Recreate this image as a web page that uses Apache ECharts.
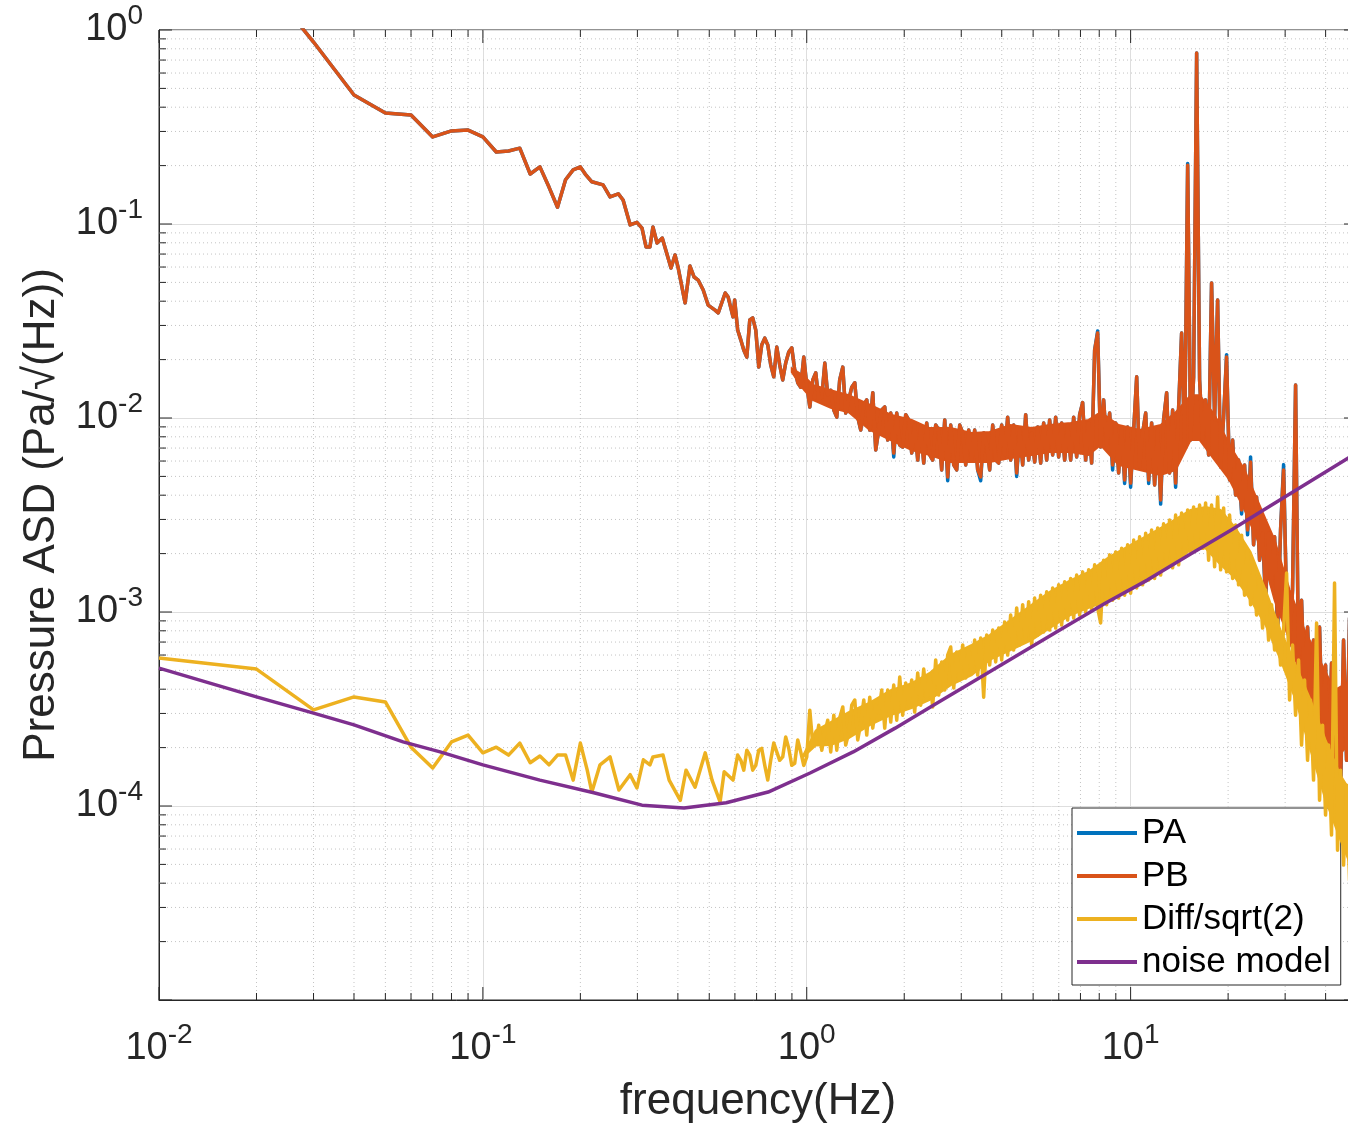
<!DOCTYPE html>
<html>
<head>
<meta charset="utf-8">
<script src="https://cdn.jsdelivr.net/npm/echarts@6.0.0/dist/echarts.min.js"></script>
<style>
  html, body { margin: 0; padding: 0; background: #fff; }
  #asd_chart { width: 1348px; height: 1126px; }
</style>
</head>
<body>
<div id="asd_chart"></div>
<script>
// low-frequency part of PA / PB (Hz and Pa/sqrt(Hz)); PA lies on PB here
const pLowFreq = [
  0.02, 0.03, 0.04, 0.05, 0.06, 0.07, 0.08, 0.09, 0.10, 0.11, 0.12, 0.13, 0.14, 0.15, 0.16, 0.17, 0.18, 0.19, 0.20,
  0.207, 0.217, 0.235, 0.247, 0.262, 0.271, 0.285, 0.299, 0.310, 0.319, 0.328, 0.335, 0.345, 0.358,
  0.381, 0.392, 0.401, 0.421, 0.436, 0.449, 0.462, 0.479, 0.496, 0.521, 0.533, 0.560, 0.572, 0.592
]
const pbLowAsd = [
  2.0, 0.867, 0.462, 0.373, 0.365, 0.281, 0.302, 0.305, 0.281, 0.235, 0.238, 0.246, 0.181, 0.197, 0.155, 0.122, 0.169, 0.190, 0.197,
  0.181, 0.165, 0.159, 0.138, 0.143, 0.133, 0.0989, 0.102, 0.0953, 0.0761, 0.0761, 0.0965, 0.0798, 0.0847,
  0.0593, 0.0692, 0.0593, 0.0392, 0.0607, 0.0533, 0.0514, 0.0457, 0.0382, 0.0360, 0.0348, 0.0441, 0.0420, 0.0332
]

// low-frequency part of Diff/sqrt(2)
const dLowFreq = [
  0.01, 0.02, 0.03, 0.04, 0.05, 0.06, 0.07, 0.08, 0.09, 0.10, 0.11, 0.12, 0.13, 0.14, 0.15, 0.16, 0.17, 0.18, 0.19, 0.20,
  0.210, 0.217, 0.230, 0.247, 0.263, 0.285, 0.299, 0.313, 0.328, 0.335,
  0.360, 0.376, 0.407, 0.424, 0.452, 0.486, 0.510, 0.540, 0.556, 0.592
]
const diffLowAsd = [
  5.79e-4, 5.08e-4, 3.13e-4, 3.65e-4, 3.44e-4, 2.01e-4, 1.57e-4, 2.14e-4, 2.32e-4, 1.88e-4,
  2.01e-4, 1.83e-4, 2.11e-4, 1.67e-4, 1.81e-4, 1.63e-4, 1.83e-4, 1.83e-4, 1.36e-4, 2.11e-4,
  1.53e-4, 1.18e-4, 1.63e-4, 1.79e-4, 1.21e-4, 1.45e-4, 1.24e-4, 1.73e-4, 1.63e-4, 1.79e-4,
  1.83e-4, 1.36e-4, 1.07e-4, 1.53e-4, 1.25e-4, 1.88e-4, 1.36e-4, 1.05e-4, 1.50e-4, 1.36e-4
]

// dense part, shared frequencies (Hz)
const denseFreq = [
  0.599, 0.612, 0.626, 0.639, 0.653, 0.667, 0.681, 0.696, 0.711, 0.726,
  0.742, 0.758, 0.774, 0.791, 0.808, 0.825, 0.843, 0.861, 0.880, 0.899,
  0.918, 0.938, 0.958, 0.979, 1.000, 1.022, 1.044, 1.066, 1.089, 1.113,
  1.137, 1.161, 1.186, 1.212, 1.238, 1.264, 1.292, 1.319, 1.348, 1.377,
  1.407, 1.437, 1.468, 1.500, 1.532, 1.565, 1.599, 1.633, 1.668, 1.704,
  1.741, 1.778, 1.817, 1.856, 1.896, 1.937, 1.978, 2.021, 2.065, 2.109,
  2.154, 2.201, 2.248, 2.297, 2.346, 2.397, 2.448, 2.501, 2.555, 2.610,
  2.667, 2.724, 2.783, 2.843, 2.904, 2.967, 3.031, 3.096, 3.162, 3.231,
  3.300, 3.371, 3.444, 3.518, 3.594, 3.671, 3.751, 3.831, 3.914, 3.998,
  4.084, 4.172, 4.262, 4.354, 4.448, 4.544, 4.642, 4.742, 4.844, 4.948,
  5.055, 5.164, 5.275, 5.389, 5.505, 5.623, 5.745, 5.869, 5.995, 6.124,
  6.256, 6.391, 6.529, 6.670, 6.813, 6.960, 7.110, 7.263, 7.420, 7.580,
  7.743, 7.910, 8.080, 8.254, 8.432, 8.614, 8.799, 8.989, 9.183, 9.380,
  9.583, 9.789, 10.00, 10.22, 10.44, 10.66, 10.89, 11.13, 11.37, 11.61,
  11.86, 12.12, 12.38, 12.64, 12.92, 13.19, 13.48, 13.77, 14.07, 14.37,
  14.68, 15.00, 15.32, 15.65, 15.99, 16.33, 16.68, 17.04, 17.41, 17.78,
  18.17, 18.56, 18.96, 19.37, 19.78, 20.21, 20.65, 21.09, 21.54, 22.01,
  22.48, 22.97, 23.46, 23.97, 24.48, 25.01, 25.55, 26.10, 26.67, 27.24,
  27.83, 28.43, 29.04, 29.67, 30.31, 30.96, 31.62, 32.31, 33.00, 33.71,
  34.44, 35.18, 35.94, 36.71, 37.51, 38.31, 39.14, 39.98, 40.84, 41.72,
  42.62, 43.54, 44.48, 45.44, 46.42, 47.42, 48.44
]

const pbDenseAsd = [
  0.0406, 0.0284, 0.0252, 0.0224, 0.0206, 0.0320, 0.0328, 0.0284, 0.0183, 0.0238,
  0.0258, 0.0238, 0.0188, 0.0163, 0.0232, 0.0188, 0.0157, 0.0192, 0.0219, 0.0230,
  0.0177, 0.0152, 0.0144, 0.0206, 0.0148, 0.0114, 0.0157, 0.0171, 0.0124, 0.0128,
  0.0192, 0.0131, 0.0139, 0.0110, 0.0101, 0.0157, 0.0183, 0.0106, 0.0124, 0.0144,
  0.0152, 0.0101, 0.00867, 0.0117, 0.0124, 0.00867, 0.0135, 0.00684, 0.00867, 0.0110,
  0.0114, 0.00770, 0.0106, 0.00660, 0.0106, 0.00726, 0.00709, 0.0104, 0.00977, 0.00660,
  0.00920, 0.00607, 0.00899, 0.00586, 0.00943, 0.00645, 0.00607, 0.00920, 0.00867, 0.00540,
  0.00977, 0.00497, 0.00920, 0.00573, 0.00540, 0.00920, 0.00837, 0.00573, 0.00867, 0.00607,
  0.00867, 0.00540, 0.00497, 0.00837, 0.00726, 0.00540, 0.00920, 0.00607, 0.00586, 0.00920,
  0.00645, 0.0101, 0.00607, 0.00920, 0.00521, 0.00867, 0.00573, 0.0104, 0.00607, 0.00837,
  0.00593, 0.00899, 0.00586, 0.00943, 0.00607, 0.00977, 0.00645, 0.0101, 0.00630, 0.00943,
  0.00607, 0.00920, 0.00607, 0.0101, 0.00630, 0.0104, 0.0120, 0.00607, 0.00943, 0.00586,
  0.0224, 0.0274, 0.00709, 0.0124, 0.00726, 0.0106, 0.00573, 0.00943, 0.00521, 0.00899,
  0.00479, 0.00899, 0.00462, 0.00867, 0.0163, 0.00559, 0.00837, 0.0106, 0.00479, 0.00943,
  0.00452, 0.00867, 0.00378, 0.00977, 0.0135, 0.00521, 0.0110, 0.00462, 0.0114, 0.0274,
  0.00726, 0.201, 0.00770, 0.0163, 0.761, 0.0157, 0.00770, 0.0124, 0.00645, 0.0497,
  0.00977, 0.0406, 0.00559, 0.0101, 0.0206, 0.00479, 0.00770, 0.00401, 0.00607, 0.00336,
  0.00573, 0.00265, 0.00593, 0.00222, 0.00392, 0.00185, 0.00255, 0.00120, 0.00255, 0.00138,
  0.00244, 0.000837, 0.00265, 0.00540, 0.00109, 0.000676, 0.00130, 0.0148, 0.000502, 0.00115,
  0.000396, 0.000837, 0.000352, 0.000717, 0.000246, 0.000837, 0.000219, 0.000533, 0.000136, 0.000546,
  0.000172, 0.000352, 0.000121, 0.000717, 0.000172, 0.000930, 0.000277
]

const paDenseAsd = [
  0.0406, 0.0284, 0.0252, 0.0224, 0.0206, 0.0320, 0.0328, 0.0284, 0.0183, 0.0238,
  0.0258, 0.0238, 0.0188, 0.0163, 0.0232, 0.0188, 0.0157, 0.0192, 0.0219, 0.0230,
  0.0177, 0.0152, 0.0144, 0.0206, 0.0148, 0.0114, 0.0157, 0.0171, 0.0124, 0.0128,
  0.0192, 0.0131, 0.0139, 0.0110, 0.0101, 0.0157, 0.0183, 0.0106, 0.0124, 0.0144,
  0.0152, 0.0101, 0.00867, 0.0117, 0.0124, 0.00867, 0.0135, 0.00684, 0.00867, 0.0110,
  0.0114, 0.00770, 0.0106, 0.00630, 0.0106, 0.00726, 0.00709, 0.0104, 0.00977, 0.00660,
  0.00920, 0.00607, 0.00899, 0.00586, 0.00943, 0.00645, 0.00607, 0.00920, 0.00867, 0.00540,
  0.00977, 0.00475, 0.00920, 0.00573, 0.00540, 0.00920, 0.00837, 0.00573, 0.00867, 0.00607,
  0.00867, 0.00540, 0.00475, 0.00837, 0.00726, 0.00540, 0.00920, 0.00607, 0.00586, 0.00920,
  0.00645, 0.0101, 0.00607, 0.00920, 0.00500, 0.00867, 0.00573, 0.0104, 0.00607, 0.00837,
  0.00593, 0.00899, 0.00586, 0.00943, 0.00607, 0.00977, 0.00645, 0.0101, 0.00630, 0.00943,
  0.00607, 0.00920, 0.00607, 0.0101, 0.00630, 0.0104, 0.0120, 0.00607, 0.00943, 0.00586,
  0.0224, 0.0281, 0.00709, 0.0124, 0.00726, 0.0106, 0.00540, 0.00943, 0.00521, 0.00899,
  0.00460, 0.00899, 0.00440, 0.00867, 0.0163, 0.00559, 0.00837, 0.0106, 0.00460, 0.00943,
  0.00452, 0.00867, 0.00360, 0.00977, 0.0135, 0.00521, 0.0110, 0.00440, 0.0114, 0.0274,
  0.00726, 0.205, 0.00770, 0.0163, 0.761, 0.0157, 0.00770, 0.0124, 0.00645, 0.0497,
  0.00977, 0.0406, 0.00559, 0.0101, 0.0212, 0.00479, 0.00770, 0.00401, 0.00607, 0.00320,
  0.00573, 0.00250, 0.00630, 0.00222, 0.00392, 0.00185, 0.00255, 0.00112, 0.00255, 0.00138,
  0.00244, 0.00078, 0.00265, 0.00575, 0.00109, 0.000676, 0.00130, 0.0148, 0.00047, 0.00115,
  0.000396, 0.000837, 0.000352, 0.000717, 0.000246, 0.000837, 0.000219, 0.000533, 0.000125, 0.000546,
  0.000172, 0.000352, 0.000113, 0.000717, 0.000172, 0.000930, 0.000277
]

const diffDenseAsd = [
  1.36e-4, 1.83e-4, 1.72e-4, 1.53e-4, 1.94e-4, 1.83e-4, 1.53e-4, 1.62e-4, 1.94e-4, 1.98e-4,
  1.62e-4, 1.36e-4, 1.72e-4, 2.11e-4, 1.90e-4, 1.72e-4, 1.79e-4, 2.27e-4, 1.98e-4, 1.62e-4,
  1.66e-4, 2.19e-4, 1.90e-4, 1.62e-4, 1.79e-4, 3.12e-4, 2.06e-4, 2.11e-4, 2.61e-4, 1.94e-4,
  2.38e-4, 2.77e-4, 1.90e-4, 2.94e-4, 1.94e-4, 2.84e-4, 3.24e-4, 2.06e-4, 2.38e-4, 3.31e-4,
  3.52e-4, 2.19e-4, 2.68e-4, 3.52e-4, 2.32e-4, 3.64e-4, 2.52e-4, 3.31e-4, 3.01e-4, 3.96e-4,
  2.52e-4, 3.96e-4, 2.71e-4, 4.20e-4, 2.77e-4, 4.62e-4, 2.94e-4, 4.30e-4, 3.31e-4, 4.46e-4,
  3.05e-4, 4.85e-4, 3.31e-4, 5.08e-4, 3.52e-4, 4.73e-4, 3.24e-4, 5.66e-4, 3.73e-4, 5.53e-4,
  3.96e-4, 6.00e-4, 6.60e-4, 4.06e-4, 6.22e-4, 4.46e-4, 6.76e-4, 4.57e-4, 6.52e-4, 4.85e-4,
  7.17e-4, 4.73e-4, 7.34e-4, 3.64e-4, 7.61e-4, 5.33e-4, 8.07e-4, 5.53e-4, 8.26e-4, 5.66e-4,
  8.88e-4, 6.00e-4, 9.65e-4, 6.37e-4, 1.05e-3, 6.76e-4, 1.09e-3, 7.17e-4, 1.13e-3, 6.76e-4,
  1.18e-3, 7.61e-4, 1.22e-3, 7.89e-4, 1.27e-3, 8.07e-4, 1.33e-3, 8.26e-4, 1.38e-3, 8.57e-4,
  1.43e-3, 9.09e-4, 1.49e-3, 9.31e-4, 1.55e-3, 9.65e-4, 1.61e-3, 1.00e-3, 1.65e-3, 1.02e-3,
  1.75e-3, 1.05e-3, 8.78e-4, 1.85e-3, 1.09e-3, 1.97e-3, 1.15e-3, 2.04e-3, 1.18e-3, 2.13e-3,
  1.22e-3, 2.22e-3, 1.25e-3, 2.35e-3, 1.33e-3, 2.44e-3, 1.38e-3, 2.55e-3, 1.46e-3, 2.65e-3,
  1.49e-3, 2.71e-3, 1.55e-3, 2.85e-3, 1.75e-3, 2.98e-3, 1.69e-3, 3.16e-3, 1.75e-3, 3.24e-3,
  1.91e-3, 3.36e-3, 2.04e-3, 3.48e-3, 2.09e-3, 3.56e-3, 2.13e-3, 3.65e-3, 1.85e-3, 3.56e-3,
  1.71e-3, 3.92e-3, 1.65e-3, 3.44e-3, 1.61e-3, 3.16e-3, 1.49e-3, 2.81e-3, 1.38e-3, 2.49e-3,
  1.22e-3, 2.09e-3, 1.09e-3, 1.75e-3, 9.65e-4, 1.46e-3, 8.26e-4, 1.30e-3, 7.17e-4, 1.09e-3,
  6.37e-4, 9.09e-4, 5.33e-4, 8.07e-4, 1.59e-3, 3.52e-4, 6.76e-4, 2.94e-4, 5.66e-4, 2.06e-4,
  4.46e-4, 1.72e-4, 3.52e-4, 1.36e-4, 8.78e-4, 1.07e-4, 2.61e-4, 8.98e-5, 2.06e-4, 7.08e-5,
  1.41e-3, 5.92e-5, 1.53e-4, 4.96e-5, 1.28e-4, 4.15e-5, 1.14e-4
]

// core of the dense noise bands: frequency, upper and lower ASD
const pbBandFreq = [0.899, 0.979, 1.044, 1.186, 1.348, 1.565, 1.817, 2.109, 2.397, 2.783, 3.231, 3.671, 4.262, 4.948, 5.623, 6.529,
  7.420, 8.080, 9.183, 10.66, 12.38, 13.77, 15.32, 16.33, 18.17, 20.21, 22.48, 25.01, 27.83, 30.96, 34.44, 38.31, 42.62, 48.44]
const pbBandTop = [0.0180, 0.0165, 0.0148, 0.0139, 0.0131, 0.0117, 0.0104, 0.00977, 0.00887, 0.00887, 0.00837, 0.00847, 0.00920, 0.00887, 0.00920, 0.00943,
  0.00977, 0.0107, 0.00920, 0.00867, 0.00920, 0.0107, 0.0131, 0.0131, 0.0104, 0.00726, 0.00540, 0.00356, 0.00235, 0.00130, 0.000807, 0.000566, 0.000396, 0.000446]
const pbBandBottom = [0.0172, 0.0140, 0.0124, 0.0113, 0.0107, 0.00867, 0.00770, 0.00684, 0.00645, 0.00593, 0.00593, 0.00593, 0.00622, 0.00645, 0.00668, 0.00668,
  0.00645, 0.00726, 0.00573, 0.00540, 0.00508, 0.00540, 0.00770, 0.00770, 0.00607, 0.00479, 0.00336, 0.00222, 0.00115, 0.000717, 0.000396, 0.000246, 0.000172, 0.000219]

const diffBandFreq = [0.979, 1.066, 1.186, 1.348, 1.565, 1.817, 2.109, 2.397, 2.783, 3.231, 3.671, 4.262, 4.948, 5.623, 6.529, 7.420,
  8.614, 10.00, 11.61, 13.19, 15.32, 17.04, 18.96, 21.09, 23.46, 26.10, 29.04, 32.31, 35.94, 39.98, 44.48, 48.44]
const diffBandTop = [1.85e-4, 2.45e-4, 2.71e-4, 3.05e-4, 3.41e-4, 3.96e-4, 4.30e-4, 4.85e-4, 6.00e-4, 6.76e-4, 7.61e-4, 9.09e-4, 1.09e-3, 1.27e-3, 1.46e-3, 1.61e-3,
  1.93e-3, 2.22e-3, 2.55e-3, 2.88e-3, 3.36e-3, 3.48e-3, 3.36e-3, 2.71e-3, 2.04e-3, 1.30e-3, 8.07e-4, 5.33e-4, 3.52e-4, 2.19e-4, 1.44e-4, 1.14e-4]
const diffBandBottom = [1.80e-4, 2.05e-4, 2.06e-4, 2.24e-4, 2.61e-4, 2.94e-4, 3.20e-4, 3.52e-4, 4.20e-4, 4.73e-4, 5.66e-4, 6.37e-4, 7.17e-4, 8.26e-4, 9.65e-4, 1.05e-3,
  1.15e-3, 1.30e-3, 1.49e-3, 1.73e-3, 2.09e-3, 2.13e-3, 1.75e-3, 1.49e-3, 1.15e-3, 8.57e-4, 5.66e-4, 3.52e-4, 1.94e-4, 1.07e-4, 6.67e-5, 4.67e-5]

// [frequency, ASD] pairs of the noise model
const modelPoints = [
  [0.01, 5.14e-4], [0.02, 3.65e-4], [0.03, 3.01e-4], [0.04, 2.62e-4], [0.0567, 2.14e-4], [0.0738, 1.90e-4],
  [0.1, 1.63e-4], [0.15, 1.36e-4], [0.22, 1.17e-4], [0.31, 1.01e-4], [0.418, 9.77e-5], [0.564, 1.04e-4],
  [0.76, 1.18e-4], [1.024, 1.48e-4], [1.391, 1.90e-4], [1.875, 2.52e-4], [2.527, 3.40e-4], [3.408, 4.57e-4],
  [4.593, 6.15e-4], [6.192, 8.27e-4], [8.346, 1.11e-3], [11.26, 1.46e-3], [15.18, 1.97e-3], [20.45, 2.65e-3],
  [25.14, 3.28e-3], [47.0, 6.22e-3], [50, 6.7e-3]
]

const legendNames = ['PA', 'PB', 'Diff/sqrt(2)', 'noise model']
const legendColors = ['#0072BD', '#D95319', '#EDB120', '#7E2F8E']

// tick positions of the log axes
const xMajorTicks = [0.01, 0.1, 1, 10]
const xMinorTicks = [0.02, 0.03, 0.04, 0.05, 0.06, 0.07, 0.08, 0.09, 0.2, 0.3, 0.4, 0.5, 0.6, 0.7, 0.8, 0.9,
  2, 3, 4, 5, 6, 7, 8, 9, 20, 30, 40]
const yMajorTicks = [1e-5, 1e-4, 1e-3, 0.01, 0.1, 1]
const yMinorTicks = [2e-5, 3e-5, 4e-5, 5e-5, 6e-5, 7e-5, 8e-5, 9e-5, 2e-4, 3e-4, 4e-4, 5e-4, 6e-4, 7e-4, 8e-4, 9e-4,
  0.002, 0.003, 0.004, 0.005, 0.006, 0.007, 0.008, 0.009, 0.02, 0.03, 0.04, 0.05, 0.06, 0.07, 0.08, 0.09,
  0.2, 0.3, 0.4, 0.5, 0.6, 0.7, 0.8, 0.9]

const FONT = '"Liberation Sans", Arial, Helvetica, sans-serif'
const AXIS_COLOR = '#262626'

function powLabel (value) {
  const p = Math.log10(value)
  if (Math.abs(p - Math.round(p)) > 1e-6) return ''
  return '{b|10}{s|' + Math.round(p) + '}'
}

const labelRich = {
  b: { fontSize: 38, lineHeight: 56, fontFamily: FONT, color: AXIS_COLOR, verticalAlign: 'middle' },
  s: { fontSize: 28, lineHeight: 28, fontFamily: FONT, color: AXIS_COLOR, verticalAlign: 'top' }
}

function xTickRender (params, api) {
  const cs = params.coordSys
  const x = api.coord([api.value(0), 1])[0]
  const major = api.value(2) === 1
  const len = major ? 13 : 7
  const top = cs.y
  const bottom = cs.y + cs.height
  const children = []
  if (!major) {
    children.push({ type: 'line', shape: { x1: x, y1: top, x2: x, y2: bottom }, style: { stroke: '#c4c4c4', lineWidth: 1, lineDash: [1, 3] } })
  }
  children.push({ type: 'line', shape: { x1: x, y1: bottom, x2: x, y2: bottom - len }, style: { stroke: AXIS_COLOR, lineWidth: 1 } })
  children.push({ type: 'line', shape: { x1: x, y1: top, x2: x, y2: top + len }, style: { stroke: AXIS_COLOR, lineWidth: 1 } })
  return { type: 'group', children: children }
}

function yTickRender (params, api) {
  const cs = params.coordSys
  const y = api.coord([0.01, api.value(1)])[1]
  const major = api.value(2) === 1
  const len = major ? 13 : 7
  const left = cs.x
  const right = cs.x + cs.width
  const children = []
  if (!major) {
    children.push({ type: 'line', shape: { x1: left, y1: y, x2: right, y2: y }, style: { stroke: '#c4c4c4', lineWidth: 1, lineDash: [1, 3] } })
  }
  children.push({ type: 'line', shape: { x1: left, y1: y, x2: left + len, y2: y }, style: { stroke: AXIS_COLOR, lineWidth: 1 } })
  children.push({ type: 'line', shape: { x1: right, y1: y, x2: right - len, y2: y }, style: { stroke: AXIS_COLOR, lineWidth: 1 } })
  return { type: 'group', children: children }
}

// filled core of a dense band, upper edge forward then lower edge back
function bandRender (freq, top, bottom, color) {
  return function (params, api) {
    const pts = []
    freq.forEach((f, i) => pts.push(api.coord([f, top[i]])))
    for (let i = freq.length - 1; i >= 0; i--) pts.push(api.coord([freq[i], bottom[i]]))
    return { type: 'polygon', shape: { points: pts }, style: { fill: color, stroke: color, lineWidth: 2 } }
  }
}

const dom = document.getElementById('asd_chart')
const myChart = echarts.init(dom, null, { renderer: 'canvas' })

const pFreq = pLowFreq.concat(denseFreq)
const dFreq = dLowFreq.concat(denseFreq)
const paAsd = pbLowAsd.concat(paDenseAsd)
const pbAsd = pbLowAsd.concat(pbDenseAsd)
const diffAsd = diffLowAsd.concat(diffDenseAsd)

const xTickData = xMajorTicks.map(v => [v, 1, 1]).concat(xMinorTicks.map(v => [v, 1, 0]))
const yTickData = yMajorTicks.map(v => [0.01, v, 1]).concat(yMinorTicks.map(v => [0.01, v, 0]))

const lineData = [
  pFreq.map((f, i) => [f, paAsd[i]]),
  pFreq.map((f, i) => [f, pbAsd[i]]),
  dFreq.map((f, i) => [f, diffAsd[i]]),
  modelPoints
]
const lineZ = [3, 5, 7, 8]
const lineSeries = lineData.map((data, i) => ({
  name: legendNames[i],
  type: 'line',
  data: data,
  showSymbol: false,
  symbol: 'none',
  z: lineZ[i],
  lineStyle: { color: legendColors[i], width: 3.5, join: 'round' },
  itemStyle: { color: legendColors[i] }
}))

const bandSeries = [
  {
    type: 'custom',
    silent: true,
    z: 4,
    renderItem: bandRender(pbBandFreq, pbBandTop, pbBandBottom, legendColors[1]),
    encode: { x: 0, y: 1 },
    data: [[pbBandFreq[0], pbBandTop[0]]]
  },
  {
    type: 'custom',
    silent: true,
    z: 6,
    renderItem: bandRender(diffBandFreq, diffBandTop, diffBandBottom, legendColors[2]),
    encode: { x: 0, y: 1 },
    data: [[diffBandFreq[0], diffBandTop[0]]]
  }
]

const option = {
  animation: false,
  backgroundColor: '#ffffff',
  grid: {
    left: 159,
    top: 30,
    right: -9,
    bottom: 126,
    outerBoundsMode: 'none',
    containLabel: false,
    show: true,
    borderColor: AXIS_COLOR,
    borderWidth: 1,
    backgroundColor: 'transparent'
  },
  legend: {
    data: legendNames,
    orient: 'vertical',
    left: 1072,
    top: 808,
    icon: 'rect',
    itemWidth: 60,
    itemHeight: 4,
    itemGap: 3,
    itemTextGap: 6,
    padding: [5, 10, 3, 5],
    backgroundColor: '#ffffff',
    borderColor: AXIS_COLOR,
    borderWidth: 1,
    selectedMode: false,
    textStyle: { fontFamily: FONT, fontSize: 35, lineHeight: 40, color: '#000000' }
  },
  xAxis: {
    type: 'log',
    logBase: 10,
    min: 0.01,
    max: 50,
    name: 'frequency(Hz)',
    nameLocation: 'middle',
    nameGap: 80,
    nameTextStyle: { fontFamily: FONT, fontSize: 44, color: AXIS_COLOR },
    axisLine: { onZero: false, lineStyle: { color: AXIS_COLOR, width: 1 } },
    axisTick: { show: false },
    splitLine: { show: true, lineStyle: { color: '#dedede', width: 1 } },
    axisLabel: { margin: 21, formatter: powLabel, rich: labelRich }
  },
  yAxis: {
    type: 'log',
    logBase: 10,
    min: 1e-5,
    max: 1,
    name: 'Pressure ASD (Pa/\u221A(Hz))',
    nameLocation: 'middle',
    nameGap: 95,
    nameRotate: 90,
    nameTextStyle: { fontFamily: FONT, fontSize: 44, color: AXIS_COLOR },
    axisLine: { onZero: false, lineStyle: { color: AXIS_COLOR, width: 1 } },
    axisTick: { show: false },
    splitLine: { show: true, lineStyle: { color: '#dedede', width: 1 } },
    axisLabel: { margin: 16, showMinLabel: false, formatter: powLabel, rich: labelRich }
  },
  series: [
    {
      type: 'custom',
      silent: true,
      z: 1,
      renderItem: xTickRender,
      encode: { x: 0, y: 1 },
      data: xTickData
    },
    {
      type: 'custom',
      silent: true,
      z: 1,
      renderItem: yTickRender,
      encode: { x: 0, y: 1 },
      data: yTickData
    }
  ].concat(bandSeries, lineSeries)
}

myChart.setOption(option, true)
window.onresize = function () {
  myChart.resize()
}
</script>
</body>
</html>
